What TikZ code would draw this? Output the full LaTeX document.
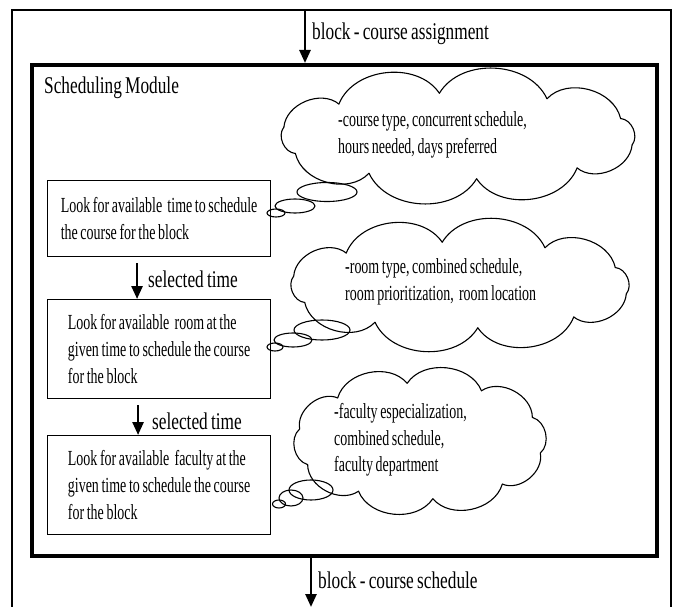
\documentclass[tikz,border=0pt]{standalone}
\usepackage{fontspec}
\setmainfont[FakeStretch=0.72, WordSpace=0.75]{Liberation Serif}
\newfontfamily\narrowfont[FakeStretch=0.65, WordSpace=0.75]{Liberation Serif}
\usetikzlibrary{arrows.meta, positioning}

% thought cloud: centre x, centre y, radius x, radius y, puffs
\newcommand{\puffcloud}[5]{%
    \foreach \k in {1,...,#5} {
        \draw[cloudline] ({#1+#3*cos(360*(\k-1)/#5+12)}, {#2+#4*sin(360*(\k-1)/#5+12)})
            to[bend left=62] ({#1+#3*cos(360*\k/#5+12)}, {#2+#4*sin(360*\k/#5+12)});
    }}

\begin{document}
\begin{tikzpicture}[
            x = 1pt, y = -1pt, % pixel units, y grows downward
            > = {Triangle[length=13pt, width=11pt]}, % arrow head style
            line join = miter
        ]

        \tikzstyle{task}=[
            draw = black,
            line width = 1.1pt,
            anchor = north west,
            minimum width = 223pt,
            inner xsep = 11pt,
            align = left,
            font = \narrowfont\fontsize{21.5}{27}\selectfont
        ]
        \tikzstyle{cloudline}=[draw = black, line width = 1.1pt, line cap = round]
        \tikzstyle{note}=[anchor = west, align = left, inner sep = 0pt, font = \narrowfont\fontsize{21.5}{26.5}\selectfont]
        \tikzstyle{flowtext}=[anchor = west, inner sep = 0pt, font = \fontsize{24}{24}\selectfont]
        \tikzstyle{flow}=[->, line width = 2.6pt]

        \useasboundingbox (0,0) rectangle (678,607);

        % outer frame, open at the bottom
        \draw[line width = 1.4pt] (12,607) |- (671,10) -- (671,607);

        \node[draw, line width = 4pt, anchor = north west,
              minimum width = 625pt, minimum height = 491pt] (module) at (30,63) {};
        \node[flowtext] (title) at (44,88) {Scheduling Module};

        \node[task, minimum height = 76pt] (time) at (47,180)
            {Look for available~ time to schedule\\the course for the block};
        \node[task, minimum height = 99pt] (room) at (47,299)
            {Look for available~ room at the\\given time to schedule the course\\for the block};
        \node[task, minimum height = 99pt] (faculty) at (47,435)
            {Look for available~ faculty at the\\given time to schedule the course\\for the block};

        % input and output of the module
        \coordinate (in) at (305,10);
        \coordinate (out) at (311,607);
        \draw[flow] (in) -- (in |- module.north);
        \draw[flow] (out |- module.south) -- (out);
        \node[flowtext] (assign) at (312,34) {block - course assignment};
        \node[flowtext] (sched) at (318,580) {block - course schedule};

        \draw[flow] ([xshift=-22pt, yshift=-6pt]time.south) -- ([xshift=-22pt]room.north);
        \draw[flow] ([xshift=-21pt, yshift=-6pt]room.south) -- ([xshift=-21pt]faculty.north);
        \node[flowtext] (sel1) at (148,279) {selected time};
        \node[flowtext] (sel2) at (152,421) {selected time};

        % thought clouds with the criteria
        \puffcloud{458}{136}{178}{43}{10}
        \draw[cloudline] (327,192) ellipse [x radius = 30, y radius = 9.5];
        \draw[cloudline] (295,206) ellipse [x radius = 20, y radius = 7];
        \draw[cloudline] (276,213) ellipse [x radius = 9, y radius = 4];

        \puffcloud{460}{285}{170}{43}{10}
        \draw[cloudline] (322,330) ellipse [x radius = 28, y radius = 10];
        \draw[cloudline] (293,340) ellipse [x radius = 19, y radius = 7];
        \draw[cloudline] (275,347) ellipse [x radius = 8, y radius = 4];

        \puffcloud{420}{441}{123}{58}{10}
        \draw[cloudline] (311,490) ellipse [x radius = 22, y radius = 10];
        \draw[cloudline] (291,498) ellipse [x radius = 12, y radius = 8];
        \draw[cloudline] (279,504) ellipse [x radius = 6.5, y radius = 4];

        \node[note] (needtext) at (338,135) {-course type, concurrent schedule,\\hours needed, days preferred};
        \node[note] (roomtext) at (345,282) {-room type, combined schedule,\\room prioritization,~ room location};
        \node[note] (stafftext) at (334,440) {-faculty especialization,\\combined schedule,\\faculty department};

  \end{tikzpicture}
\end{document}
